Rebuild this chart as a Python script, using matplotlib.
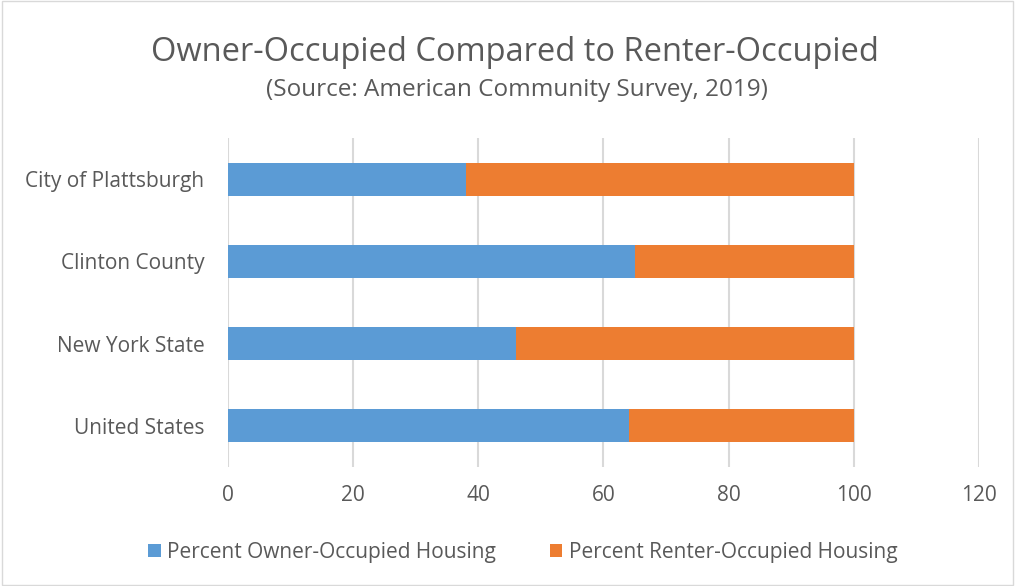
import matplotlib.pyplot as plt
from matplotlib.patches import Rectangle

# donnees (ACS 2019)
regions = ['City of Plattsburgh', 'Clinton County', 'New York State', 'United States']
owner = [38, 65, 46, 64]
renter = [62, 35, 54, 36]
xticks = [0, 20, 40, 60, 80, 100, 120]

blue = '#5b9bd5'
orange = '#ed7d31'
grey_txt = '#595959'

plt.rcParams['font.family'] = ['Open Sans', 'DejaVu Sans']

fig = plt.figure(figsize=(10.15, 5.86), dpi=100)
ax = fig.add_axes([0.2246, 0.2031, 0.7399, 0.5614])

ypos = list(range(len(regions)))[::-1]
ax.barh(ypos, owner, height=0.4, color=blue, label='Percent Owner-Occupied Housing', zorder=3)
ax.barh(ypos, renter, left=owner, height=0.4, color=orange, label='Percent Renter-Occupied Housing', zorder=3)

ax.set_xlim(0, 120)
ax.set_ylim(-0.5, 3.5)
ax.set_xticks(xticks)
ax.set_xticklabels([str(t) for t in xticks], fontsize=15, color=grey_txt)
ax.set_yticks(ypos)
ax.set_yticklabels(regions, fontsize=15, color=grey_txt)
ax.tick_params(axis='x', length=0, pad=13)
ax.tick_params(axis='y', length=0, pad=17)
ax.grid(axis='x', color='#d9d9d9', lw=1.5, zorder=0)
for s in ax.spines.values():
    s.set_visible(False)

fig.text(0.507, 0.91, 'Owner-Occupied Compared to Renter-Occupied', ha='center', va='center',
         fontsize=23.5, color=grey_txt)
fig.text(0.509, 0.846, '(Source: American Community Survey, 2019)', ha='center', va='center',
         fontsize=17.5, color=grey_txt)

leg = fig.legend(loc='center', bbox_to_anchor=(0.515, 0.058), ncol=2, frameon=False,
                 fontsize=15, labelcolor=grey_txt, handlelength=0.6, handleheight=0.6,
                 handletextpad=0.3, columnspacing=2.6)

fig.patches.append(Rectangle((0.002, 0.002), 0.996, 0.996, transform=fig.transFigure,
                             fill=False, edgecolor='#d9d9d9', lw=1))

fig.savefig('out.png', dpi=100)
